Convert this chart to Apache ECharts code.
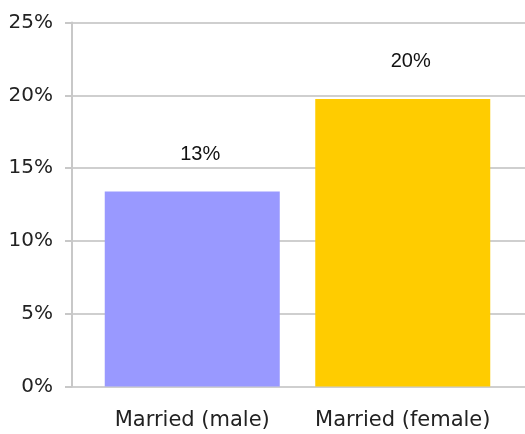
<!DOCTYPE html>
<html>
<head>
<meta charset="utf-8">
<script src="https://cdn.jsdelivr.net/npm/echarts@6/dist/echarts.min.js"></script>
<style>
  html, body { margin: 0; padding: 0; background: #fff; }
  #chart { width: 525px; height: 434px; }
</style>
</head>
<body>
<div id="chart"></div>
<script>
// data
const categories = ["Married (male)", "Married (female)"];
const percentValues = [13.4, 19.75];
const valueLabels = ["13%", "20%"];
const barColors = ["#9999FF", "#FFCC00"];
const yTicks = [0, 5, 10, 15, 20, 25];

let chart = echarts.init(document.getElementById("chart"));

let option = {
  animation: false,
  grid: [
    // frame grid: y axis, gridlines
    { left: 72, right: 0, top: 22.5, bottom: 47.5 },
    // bar grid: narrower, so the bands sit where the reference has them
    { left: 87, right: 17, top: 22.5, bottom: 47.5 }
  ],
  xAxis: [
    {
      gridIndex: 0,
      type: "category",
      data: categories,
      show: false
    },
    {
      gridIndex: 1,
      type: "category",
      data: categories,
      axisLine: { show: false },
      axisTick: { show: false },
      axisLabel: {
        interval: 0,
        hideOverlap: false,
        margin: 24,
        fontFamily: "DejaVu Sans",
        fontSize: 21,
        color: "#222"
      }
    }
  ],
  yAxis: [
    {
      gridIndex: 0,
      type: "value",
      min: yTicks[0],
      max: yTicks[yTicks.length - 1],
      interval: 5,
      axisLine: { show: true, lineStyle: { color: "#c8c8c8", width: 2 } },
      axisTick: { show: true, length: 7, lineStyle: { color: "#c8c8c8", width: 2 } },
      splitLine: { show: true, lineStyle: { color: "#cfcfcf", width: 2 } },
      axisLabel: {
        margin: 19,
        formatter: "{value}%",
        fontFamily: "DejaVu Sans",
        fontSize: 20,
        color: "#222"
      }
    },
    {
      gridIndex: 1,
      type: "value",
      min: yTicks[0],
      max: yTicks[yTicks.length - 1],
      show: false
    }
  ],
  series: [
    {
      type: "bar",
      xAxisIndex: 1,
      yAxisIndex: 1,
      barWidth: 175,
      data: percentValues.map((v, i) => ({
        value: v,
        itemStyle: { color: barColors[i] }
      })),
      label: {
        show: true,
        position: "top",
        distance: 27,
        offset: [8, 0],
        formatter: (p) => valueLabels[p.dataIndex],
        fontFamily: "Liberation Sans",
        fontSize: 20,
        color: "#111"
      }
    }
  ]
};

chart.setOption(option);
</script>
</body>
</html>
